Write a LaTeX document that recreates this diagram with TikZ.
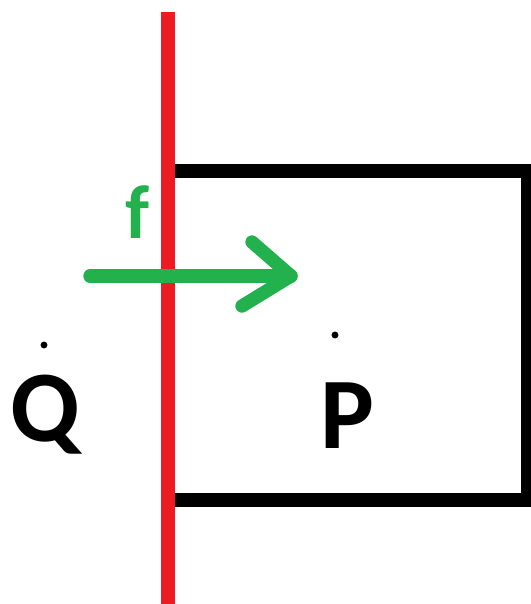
\documentclass[tikz,border=0pt]{standalone}
\usepackage{fontspec}
\setmainfont{Carlito}
\definecolor{pred}{RGB}{237,28,36}
\definecolor{pgreen}{RGB}{34,177,76}
\begin{document}
\begin{tikzpicture}[x=0.75pt,y=-0.75pt,
  redline/.style={draw=pred,line width=10.5pt},
  boxline/.style={draw=black,line width=10.5pt,line join=miter},
  force/.style={draw=pgreen,line width=10pt,line cap=round,line join=round},
  lbl/.style={font=\bfseries\fontsize{76}{76}\selectfont,inner sep=0pt},
  flbl/.style={font=\bfseries\fontsize{57}{57}\selectfont,text=pgreen,inner sep=0pt},
  dotmark/.style={circle,fill=black,inner sep=0pt,minimum size=5.2pt}]
\useasboundingbox (0,0) rectangle (531,604);
% box
\coordinate (b1) at (168,171);
\coordinate (b2) at (528,171);
\coordinate (b3) at (528,500);
\coordinate (b4) at (168,500);
\draw[boxline] (b1) -- (b2) -- (b3) -- (b4);
% red line
\coordinate (rtop) at (168,12);
\coordinate (rbot) at (168,604);
\draw[redline] (rtop) -- (rbot);
% force arrow
\coordinate (a0) at (90,276);
\coordinate (a1) at (291,276);
\coordinate (h1) at (252,242);
\coordinate (h2) at (242,306);
\draw[force] (a0) -- (a1);
\draw[force] (h1) -- (a1) -- (h2);
\node[flbl] (f) at (138,212) {f};
% points
\node[dotmark] (dq) at (44,345) {};
\node[dotmark] (dp) at (335,335) {};
\node[lbl,anchor=base] (Q) at (45,441) {Q};
\node[lbl,anchor=base] (P) at (347,448) {P};
\end{tikzpicture}
\end{document}
